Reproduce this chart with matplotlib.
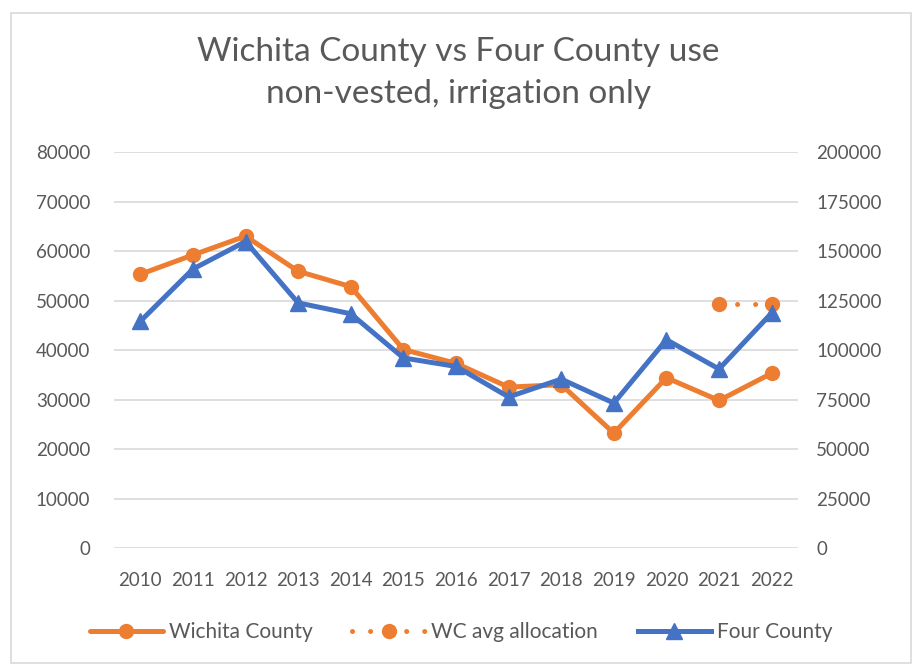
import matplotlib.pyplot as plt
import matplotlib.patches as mpatches
import numpy as np

plt.rcParams['font.family'] = ['Lato', 'DejaVu Sans']

# Datos
years = ['2010', '2011', '2012', '2013', '2014', '2015', '2016',
         '2017', '2018', '2019', '2020', '2021', '2022']
wichita = [55300, 59200, 63000, 55900, 52800, 40100, 37300,
           32500, 33000, 23200, 34400, 29800, 35300]
wc_avg = [np.nan] * 11 + [49300, 49300]
four_county = [114500, 140900, 154800, 123800, 118300, 96000, 91700,
               76300, 85300, 73200, 105200, 90400, 118700]

orange = '#ED7D31'
blue = '#4472C4'
gray = '#595959'

fig = plt.figure(figsize=(9.13, 6.67), dpi=100)
ax = fig.add_axes([0.1249, 0.1784, 0.7491, 0.5937])
ax2 = ax.twinx()

x = np.arange(len(years))

ln1, = ax.plot(x, wichita, color=orange, lw=3.6, marker='o', markersize=10,
               label='Wichita County', solid_capstyle='round')
ln2, = ax.plot(x, wc_avg, color=orange, lw=3.6, marker='o', markersize=10,
               linestyle=(0, (0.01, 3.6)), dash_capstyle='round',
               label='WC avg allocation')
ln3, = ax2.plot(x, four_county, color=blue, lw=3.6, marker='^', markersize=11,
                label='Four County')

ax.set_xlim(-0.5, len(years) - 0.5)
ax.set_ylim(0, 80000)
ax.set_yticks(np.arange(0, 80001, 10000))
ax2.set_ylim(0, 200000)
ax2.set_yticks(np.arange(0, 200001, 25000))
ax.set_xticks(x)
ax.set_xticklabels(years)

ax.grid(axis='y', color='#D9D9D9', lw=1.2)
ax.set_axisbelow(True)
for a in (ax, ax2):
    for s in a.spines.values():
        s.set_visible(False)
    a.tick_params(length=0, colors=gray, labelsize=13.5)
ax.tick_params(axis='y', pad=17)
ax2.tick_params(axis='y', pad=13)
ax.tick_params(axis='x', pad=17)

fig.text(0.502, 0.89, 'Wichita County vs Four County use\nnon-vested, irrigation only',
         ha='center', va='center', fontsize=24, color=gray, linespacing=1.5)

fig.legend(handles=[ln1, ln2, ln3], loc='center', bbox_to_anchor=(0.505, 0.052),
           ncol=3, frameon=False, fontsize=15, labelcolor=gray,
           handlelength=3.5, columnspacing=1.9, handletextpad=0.3)

border = mpatches.Rectangle((0.012, 0.006), 0.986, 0.975, transform=fig.transFigure,
                            fill=False, edgecolor='#D9D9D9', lw=1.2)
fig.patches.append(border)

# Guardar gráfico
fig.savefig('out.png', dpi=100)
